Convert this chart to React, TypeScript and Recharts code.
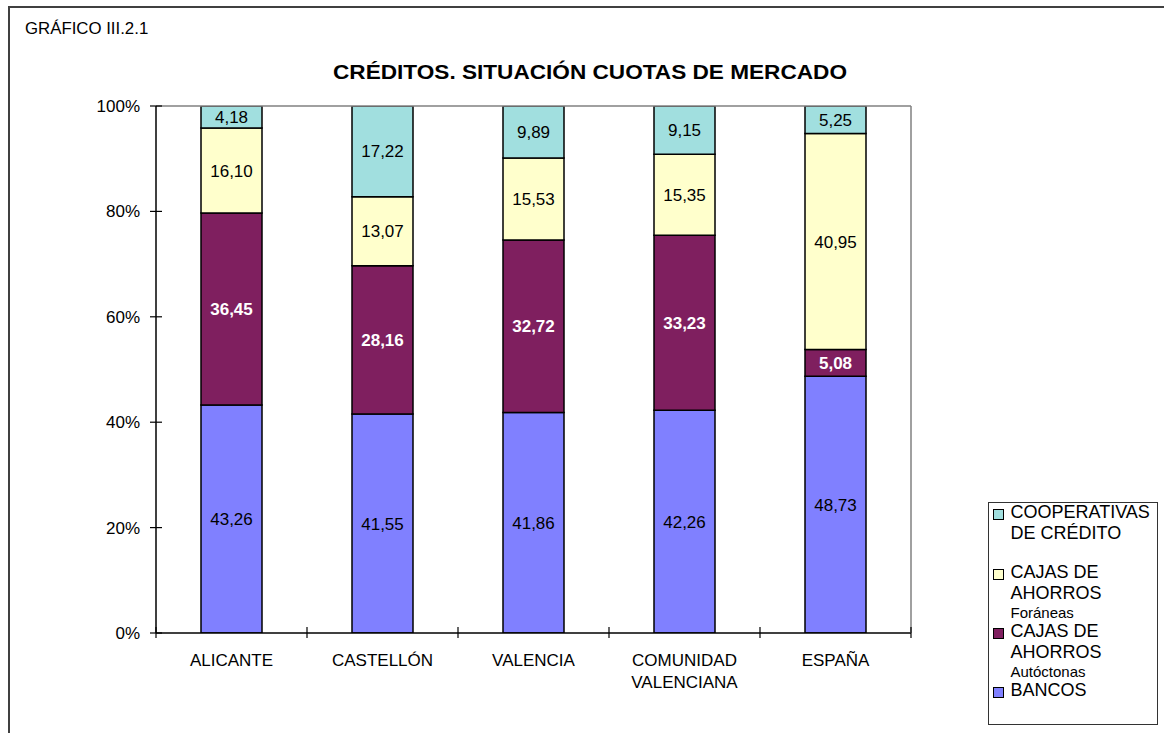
import React from "react";
import { BarChart, Bar, XAxis, YAxis, LabelList, Legend, ReferenceLine } from "recharts";

const regiones = ["ALICANTE", "CASTELLÓN", "VALENCIA", "COMUNIDAD\nVALENCIANA", "ESPAÑA"];
const bancos = [43.26, 41.55, 41.86, 42.26, 48.73];
const cajasAutoctonas = [36.45, 28.16, 32.72, 33.23, 5.08];
const cajasForaneas = [16.1, 13.07, 15.53, 15.35, 40.95];
const cooperativas = [4.18, 17.22, 9.89, 9.15, 5.25];
const yTicks = [0, 20, 40, 60, 80, 100];

// legend text, top item first (as in the original)
const leyendaLineas: Record<string, string[]> = {
  cooperativas: ["COOPERATIVAS", "DE CRÉDITO"],
  foraneas: ["CAJAS DE", "AHORROS"],
  autoctonas: ["CAJAS DE", "AHORROS"],
  bancos: ["BANCOS"],
};
const leyendaSub: Record<string, string> = {
  foraneas: "Foráneas",
  autoctonas: "Autóctonas",
};

const COLORS = {
  bancos: "#8080FF",
  autoctonas: "#7F1F5F",
  foraneas: "#FFFFCC",
  cooperativas: "#A1DFDF",
};

const FONT = "'Liberation Sans', Arial, sans-serif";

const data = regiones.map((region, i) => ({
  region,
  bancos: bancos[i],
  autoctonas: cajasAutoctonas[i],
  foraneas: cajasForaneas[i],
  cooperativas: cooperativas[i],
}));

const fmt = (v: any) => Number(v).toFixed(2).replace(".", ",");

// category label + tick marks on the category boundaries (crossing the axis)
function RegionTick({ x, y, payload, index, visibleTicksCount }: any) {
  const lines = String(payload.value).split("\n");
  const half = payload.offset || 0;
  const last = index === (visibleTicksCount ?? regiones.length) - 1;
  return (
    <g>
      <line x1={x - half} x2={x - half} y1={y - 6} y2={y + 5} stroke="#000" strokeWidth={1.2} />
      {last && <line x1={x + half} x2={x + half} y1={y - 6} y2={y + 5} stroke="#000" strokeWidth={1.2} />}
      <text x={x} y={y} textAnchor="middle" fontSize={17} fontFamily={FONT} fill="#000">
        {lines.map((l, i) => (
          <tspan key={i} x={x} dy={i === 0 ? 33 : 22}>
            {l}
          </tspan>
        ))}
      </text>
    </g>
  );
}

function PctTick({ x, y, payload }: any) {
  return (
    <g>
      <line x1={x - 6} x2={x + 6} y1={y} y2={y} stroke="#000" strokeWidth={1.2} />
      <text x={x - 16} y={y} dy="0.355em" textAnchor="end" fontSize={17} fontFamily={FONT} fill="#000">
        {payload.value}%
      </text>
    </g>
  );
}

function Leyenda({ payload }: any) {
  const items = [...(payload || [])].reverse();
  const tops = [-1, 58.5, 117.5, 176.5];
  return (
    <div
      style={{
        position: "relative",
        boxSizing: "border-box",
        width: 170,
        height: 223,
        border: "1.5px solid #333",
        background: "#fff",
        fontFamily: FONT,
        color: "#000",
      }}
    >
      {items.map((it: any, i: number) => {
        const key = it.dataKey as string;
        return (
          <div key={key} style={{ position: "absolute", left: 3.5, top: tops[i], display: "flex" }}>
            <div
              style={{
                width: 9,
                height: 9,
                marginTop: 7,
                border: "1.5px solid #000",
                background: it.color,
                flex: "none",
              }}
            />
            <div style={{ marginLeft: 7 }}>
              {leyendaLineas[key].map((l) => (
                <div key={l} style={{ fontSize: 18, lineHeight: "21px", whiteSpace: "nowrap" }}>
                  {l}
                </div>
              ))}
              {leyendaSub[key] && (
                <div style={{ fontSize: 15, lineHeight: "18px", whiteSpace: "nowrap" }}>{leyendaSub[key]}</div>
              )}
            </div>
          </div>
        );
      })}
    </div>
  );
}

export default function App() {
  return (
    <div
      style={{
        position: "absolute",
        left: 0,
        top: 0,
        width: 1164,
        height: 733,
        overflow: "hidden",
        background: "#fff",
        fontFamily: FONT,
      }}
    >
      <div
        style={{
          position: "absolute",
          left: 8,
          top: 6,
          width: 1300,
          height: 900,
          border: "2px solid #404040",
        }}
      />
      <div
        style={{
          position: "absolute",
          left: 25,
          top: 21,
          fontSize: 16,
          lineHeight: "16px",
          transform: "scaleX(1.05)",
          transformOrigin: "left center",
          whiteSpace: "nowrap",
        }}
      >
        GRÁFICO III.2.1
      </div>
      <div
        style={{
          position: "absolute",
          left: 290,
          top: 62,
          width: 600,
          textAlign: "center",
          fontSize: 20,
          lineHeight: "20px",
          fontWeight: "bold",
          transform: "scaleX(1.13)",
          transformOrigin: "center center",
          whiteSpace: "nowrap",
        }}
      >
        CRÉDITOS. SITUACIÓN CUOTAS DE MERCADO
      </div>
      <div style={{ position: "absolute", left: 0, top: 0 }}>
        <BarChart
          width={1164}
          height={733}
          data={data}
          margin={{ top: 106, right: 252, bottom: 40, left: 96 }}
          barSize={61}
        >
          <XAxis
            dataKey="region"
            height={60}
            tickSize={0}
            tickMargin={0}
            tickLine={false}
            axisLine={{ stroke: "#000", strokeWidth: 1.5 }}
            tick={<RegionTick />}
            interval={0}
          />
          <YAxis
            width={60}
            domain={[0, 100]}
            ticks={yTicks}
            allowDataOverflow
            tickSize={0}
            tickMargin={0}
            tickLine={false}
            tick={<PctTick />}
            axisLine={{ stroke: "#000", strokeWidth: 1.5 }}
          />
          <YAxis
            yAxisId="right"
            orientation="right"
            width={1}
            tick={false}
            tickLine={false}
            axisLine={{ stroke: "#808080", strokeWidth: 1.5 }}
          />
          <ReferenceLine y={100} stroke="#808080" strokeWidth={1.5} />
          <Legend
            layout="vertical"
            align="center"
            verticalAlign="middle"
            wrapperStyle={{ left: 988, top: 502, width: 170, height: 223 }}
            content={<Leyenda />}
          />
          <Bar dataKey="bancos" name="BANCOS" stackId="a" fill={COLORS.bancos} stroke="#000" strokeWidth={1.5} isAnimationActive={false}>
            <LabelList dataKey="bancos" position="center" formatter={fmt} fill="#000" fontSize={17} fontFamily={FONT} />
          </Bar>
          <Bar dataKey="autoctonas" name="CAJAS DE AHORROS Autóctonas" stackId="a" fill={COLORS.autoctonas} stroke="#000" strokeWidth={1.5} isAnimationActive={false}>
            <LabelList dataKey="autoctonas" position="center" formatter={fmt} fill="#fff" fontSize={17} fontWeight="bold" fontFamily={FONT} />
          </Bar>
          <Bar dataKey="foraneas" name="CAJAS DE AHORROS Foráneas" stackId="a" fill={COLORS.foraneas} stroke="#000" strokeWidth={1.5} isAnimationActive={false}>
            <LabelList dataKey="foraneas" position="center" formatter={fmt} fill="#000" fontSize={17} fontFamily={FONT} />
          </Bar>
          <Bar dataKey="cooperativas" name="COOPERATIVAS DE CRÉDITO" stackId="a" fill={COLORS.cooperativas} stroke="#000" strokeWidth={1.5} isAnimationActive={false}>
            <LabelList dataKey="cooperativas" position="center" formatter={fmt} fill="#000" fontSize={17} fontFamily={FONT} />
          </Bar>
        </BarChart>
      </div>
    </div>
  );
}
